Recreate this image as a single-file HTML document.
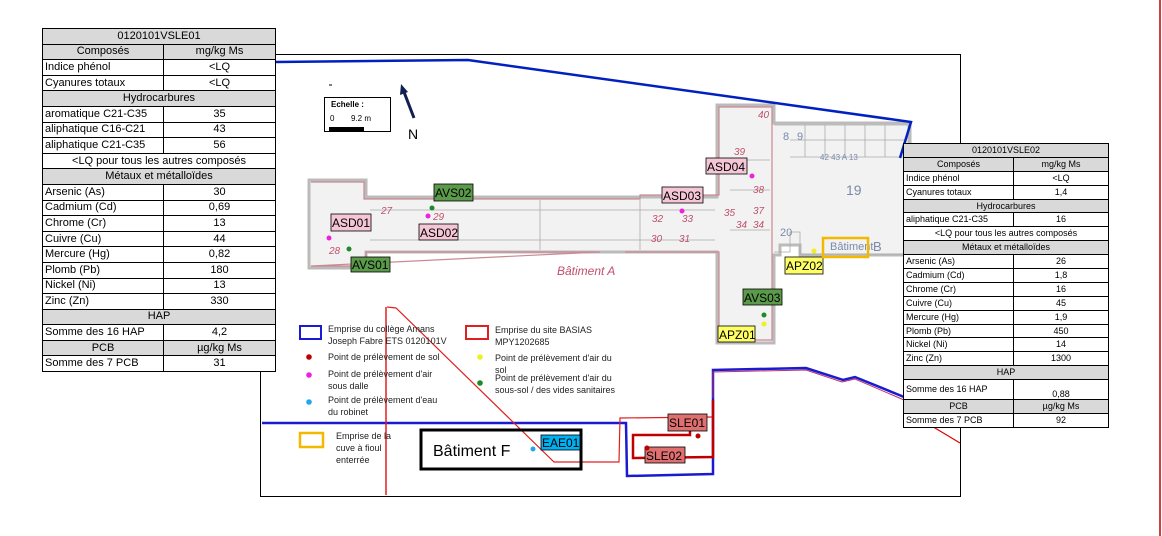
<!DOCTYPE html>
<html><head><meta charset="utf-8"><style>
body{margin:0;background:#fff;width:1162px;height:536px;position:relative;overflow:hidden;font-family:"Liberation Sans",Arial,sans-serif}
svg{position:absolute;left:0;top:0}
table{position:absolute;border-collapse:collapse;background:#fff;table-layout:fixed}
td{border:1px solid #000;padding:0 2px;white-space:nowrap;overflow:hidden;line-height:1}
td.c{text-align:center}
td.g{background:#d9d9d9;text-align:center}
#t1{left:42px;top:28px;width:233px;font-size:11px}
#t1 td{height:14.6px}
#t2{left:903px;top:143px;width:205px;font-size:9px}
#t2 td{height:12.9px}
</style></head><body>
<svg width="1162" height="536" viewBox="0 0 1162 536" font-family="Liberation Sans, Arial, sans-serif">
<line x1="1160" y1="0" x2="1160" y2="536" stroke="#c00000" stroke-width="1.5"/>
<rect x="260.5" y="54.5" width="700" height="442" fill="#fff" stroke="#000" stroke-width="1"/>
<!-- building shading -->
<g fill="#f2f2f2" stroke="#bbb" stroke-width="3">
<path d="M309 180 H366 V197 H717 V105 H774 V123 H910 V255 H800 V245 H780 V255 H774 V343 H717 V252 H366 V268 H309 Z"/>
</g>
<g fill="none" stroke="#c98a94" stroke-width="1.2">
<path d="M311 182 H364 V199 H640 V195 H719 V107 H772 V340 H719 V252 H625 M600 252 H366 V266 H311 Z"/>
</g>
<g fill="none" stroke="#aaa" stroke-width="0.8">
<path d="M774 125 H908 V254 H800 V232 H790 V252 H774"/>
<path d="M790 140 H905 M790 157 H905 M805 125 V157 M825 125 V157 M845 125 V157 M865 125 V157 M885 125 V157"/>
<path d="M370 210 H715 M370 240 H715 M540 200 V250 M640 200 V250 M730 160 H770 M730 190 H770 M730 230 H770"/>
</g>
<g font-size="10" fill="#c0506a" font-style="italic">
<text x="381" y="214">27</text><text x="433" y="220">29</text><text x="329" y="254">28</text>
<text x="652" y="222">32</text><text x="682" y="222">33</text><text x="651" y="242">30</text><text x="679" y="242">31</text>
<text x="724" y="216">35</text><text x="753" y="193">38</text><text x="753" y="214">37</text><text x="736" y="228">34</text><text x="753" y="228">34</text>
<text x="734" y="155">39</text><text x="758" y="118">40</text>
<text x="557" y="275" font-size="12">Bâtiment A</text>
</g>
<g font-size="11" fill="#7a8aa8">
<text x="783" y="140">8</text><text x="797" y="140">9</text><text x="846" y="195" font-size="14">19</text><text x="780" y="236">20</text>
<text x="830" y="250" font-size="11">Bâtiment</text><text x="873" y="251" font-size="13">B</text>
<text x="820" y="160" font-size="8">42 43 A 13</text>
</g>
<!-- blue lines -->
<polyline points="275,62 468,60 911,122 900,158" fill="none" stroke="#0020c0" stroke-width="2.5"/>
<polyline points="262,423 626,423 627,476 713,474 713,370 806,368 843,380 855,377 904,397" fill="none" stroke="#1a1ad0" stroke-width="2.5"/>
<polyline points="713,398 713,372 806,370 842,382 855,379 904,400" fill="none" stroke="#c0306a" stroke-width="1"/>
<polyline points="930,425 960,443" fill="none" stroke="#d00" stroke-width="1.2"/>
<!-- red -->
<polyline points="387,307 396,308 554,462 619,462 620,418 713,417" fill="none" stroke="#e02020" stroke-width="1.2"/>
<line x1="386" y1="307" x2="386" y2="495" stroke="#e02020" stroke-width="1.5"/>
<polyline points="690,431 690,435 633,435 633,458 713,457 713,400" fill="none" stroke="#c00000" stroke-width="2.5"/>
<!-- Batiment F -->
<rect x="421" y="430" width="160" height="39" fill="none" stroke="#000" stroke-width="3"/>
<text x="433" y="456" font-size="16">Bâtiment F</text>
<rect x="541" y="435" width="39" height="15" fill="#00b0f0" stroke="#000" stroke-width="0.8"/>
<text x="542" y="447" font-size="12">EAE01</text>
<circle cx="533" cy="449" r="2.5" fill="#20a8e8"/>
<rect x="668" y="414" width="39" height="17" fill="#e07070" stroke="#000" stroke-width="0.8"/>
<text x="669" y="427" font-size="12">SLE01</text>
<rect x="645" y="447" width="40" height="16" fill="#e07070" stroke="#000" stroke-width="0.8"/>
<text x="646" y="460" font-size="12">SLE02</text>
<circle cx="698" cy="436" r="2.5" fill="#c00000"/><circle cx="647" cy="448" r="2.5" fill="#c00000"/>
<!-- scale & north -->
<rect x="324.5" y="97.5" width="66" height="34" fill="#fff" stroke="#000"/>
<text x="331" y="107" font-size="8" font-weight="bold">Echelle :</text>
<text x="330" y="121" font-size="8">0</text><text x="351" y="121" font-size="8">9.2 m</text>
<rect x="329" y="127" width="35" height="4" fill="#000"/>
<line x1="329" y1="85" x2="332" y2="85" stroke="#000"/>
<line x1="414" y1="118" x2="404" y2="92" stroke="#102050" stroke-width="3"/>
<polygon points="401,84 400,95 408,92" fill="#102050"/>
<text x="408" y="139" font-size="14">N</text>
<!-- labels -->
<g font-size="12">
<rect x="331" y="214" width="40" height="17" fill="#f4c6d6" stroke="#000" stroke-width="0.8"/><text x="332" y="227">ASD01</text>
<rect x="419" y="224" width="39" height="16" fill="#f4c6d6" stroke="#000" stroke-width="0.8"/><text x="420" y="237">ASD02</text>
<rect x="662" y="187" width="41" height="16" fill="#f4c6d6" stroke="#000" stroke-width="0.8"/><text x="663" y="200">ASD03</text>
<rect x="706" y="158" width="41" height="16" fill="#f4c6d6" stroke="#000" stroke-width="0.8"/><text x="707" y="171">ASD04</text>
<rect x="351" y="257" width="39" height="15" fill="#5a9a4a" stroke="#000" stroke-width="0.8"/><text x="352" y="269">AVS01</text>
<rect x="434" y="184" width="39" height="17" fill="#5a9a4a" stroke="#000" stroke-width="0.8"/><text x="435" y="197">AVS02</text>
<rect x="743" y="289" width="39" height="16" fill="#5a9a4a" stroke="#000" stroke-width="0.8"/><text x="744" y="302">AVS03</text>
<rect x="785" y="257" width="38" height="17" fill="#ffff66" stroke="#000" stroke-width="0.8"/><text x="786" y="270">APZ02</text>
<rect x="718" y="326" width="37" height="16" fill="#ffff66" stroke="#000" stroke-width="0.8"/><text x="719" y="339">APZ01</text>
</g>
<rect x="823" y="238" width="45" height="19" fill="none" stroke="#f5b800" stroke-width="2.5"/>
<g>
<circle cx="329" cy="238" r="2.5" fill="#ee22dd"/><circle cx="428" cy="216" r="2.5" fill="#ee22dd"/>
<circle cx="682" cy="211" r="2.5" fill="#ee22dd"/><circle cx="752" cy="176" r="2.5" fill="#ee22dd"/>
<circle cx="349" cy="249" r="2.5" fill="#1a8a2a"/><circle cx="432" cy="208" r="2.5" fill="#1a8a2a"/><circle cx="764" cy="315" r="2.5" fill="#1a8a2a"/>
<circle cx="814" cy="251" r="2.5" fill="#f0f020"/><circle cx="764" cy="324" r="2.5" fill="#f0f020"/>
</g>
<!-- legend -->
<g font-size="9" fill="#222">
<rect x="300" y="326" width="21" height="13" fill="none" stroke="#1a1ad0" stroke-width="2"/>
<text x="328" y="332">Emprise du collège Amans</text><text x="328" y="344">Joseph Fabre ETS 0120101V</text>
<rect x="466" y="326" width="22" height="13" fill="none" stroke="#e02020" stroke-width="2"/>
<text x="495" y="333">Emprise du site BASIAS</text><text x="495" y="345">MPY1202685</text>
<circle cx="309" cy="357" r="2.8" fill="#c00000"/><text x="328" y="360">Point de prélèvement de sol</text>
<circle cx="309" cy="375" r="2.8" fill="#ee22dd"/><text x="328" y="377">Point de prélèvement d'air</text><text x="328" y="389">sous dalle</text>
<circle cx="309" cy="402" r="2.8" fill="#20a8e8"/><text x="328" y="403">Point de prélèvement d'eau</text><text x="328" y="415">du robinet</text>
<circle cx="480" cy="357" r="2.8" fill="#f0f020"/><text x="495" y="361">Point de prélèvement d'air du</text><text x="495" y="373">sol</text>
<circle cx="480" cy="383" r="2.8" fill="#1a8a2a"/><text x="495" y="381">Point de prélèvement d'air du</text><text x="495" y="393">sous-sol / des vides sanitaires</text>
<rect x="300" y="433" width="23" height="14" fill="none" stroke="#f5b800" stroke-width="2.5"/>
<text x="336" y="439">Emprise de la</text><text x="336" y="451">cuve à fioul</text><text x="336" y="463">enterrée</text>
</g>
</svg>
<table id="t1">
<col style="width:121px"><col style="width:112px">
<tr><td class="g" colspan="2">0120101VSLE01</td></tr>
<tr><td class="g">Composés</td><td class="g">mg/kg Ms</td></tr>
<tr><td>Indice phénol</td><td class="c">&lt;LQ</td></tr>
<tr><td>Cyanures totaux</td><td class="c">&lt;LQ</td></tr>
<tr><td class="g" colspan="2">Hydrocarbures</td></tr>
<tr><td>aromatique C21-C35</td><td class="c">35</td></tr>
<tr><td>aliphatique C16-C21</td><td class="c">43</td></tr>
<tr><td>aliphatique C21-C35</td><td class="c">56</td></tr>
<tr><td class="c" colspan="2">&lt;LQ pour tous les autres composés</td></tr>
<tr><td class="g" colspan="2">Métaux et métalloïdes</td></tr>
<tr><td>Arsenic (As)</td><td class="c">30</td></tr>
<tr><td>Cadmium (Cd)</td><td class="c">0,69</td></tr>
<tr><td>Chrome (Cr)</td><td class="c">13</td></tr>
<tr><td>Cuivre (Cu)</td><td class="c">44</td></tr>
<tr><td>Mercure (Hg)</td><td class="c">0,82</td></tr>
<tr><td>Plomb (Pb)</td><td class="c">180</td></tr>
<tr><td>Nickel (Ni)</td><td class="c">13</td></tr>
<tr><td>Zinc (Zn)</td><td class="c">330</td></tr>
<tr><td class="g" colspan="2">HAP</td></tr>
<tr><td>Somme des 16 HAP</td><td class="c">4,2</td></tr>
<tr><td class="g">PCB</td><td class="g">µg/kg Ms</td></tr>
<tr><td>Somme des 7 PCB</td><td class="c">31</td></tr>
</table>
<table id="t2">
<col style="width:110px"><col style="width:95px">
<tr><td class="g" colspan="2">0120101VSLE02</td></tr>
<tr><td class="g">Composés</td><td class="g">mg/kg Ms</td></tr>
<tr><td>Indice phénol</td><td class="c">&lt;LQ</td></tr>
<tr><td>Cyanures totaux</td><td class="c">1,4</td></tr>
<tr><td class="g" colspan="2">Hydrocarbures</td></tr>
<tr><td>aliphatique C21-C35</td><td class="c">16</td></tr>
<tr><td class="c" colspan="2">&lt;LQ pour tous les autres composés</td></tr>
<tr><td class="g" colspan="2">Métaux et métalloïdes</td></tr>
<tr><td>Arsenic (As)</td><td class="c">26</td></tr>
<tr><td>Cadmium (Cd)</td><td class="c">1,8</td></tr>
<tr><td>Chrome (Cr)</td><td class="c">16</td></tr>
<tr><td>Cuivre (Cu)</td><td class="c">45</td></tr>
<tr><td>Mercure (Hg)</td><td class="c">1,9</td></tr>
<tr><td>Plomb (Pb)</td><td class="c">450</td></tr>
<tr><td>Nickel (Ni)</td><td class="c">14</td></tr>
<tr><td>Zinc (Zn)</td><td class="c">1300</td></tr>
<tr><td class="g" colspan="2">HAP</td></tr>
<tr><td style="height:19px">Somme des 16 HAP</td><td class="c" style="vertical-align:bottom">0,88</td></tr>
<tr><td class="g">PCB</td><td class="g">µg/kg Ms</td></tr>
<tr><td>Somme des 7 PCB</td><td class="c">92</td></tr>
</table>
</body></html>
